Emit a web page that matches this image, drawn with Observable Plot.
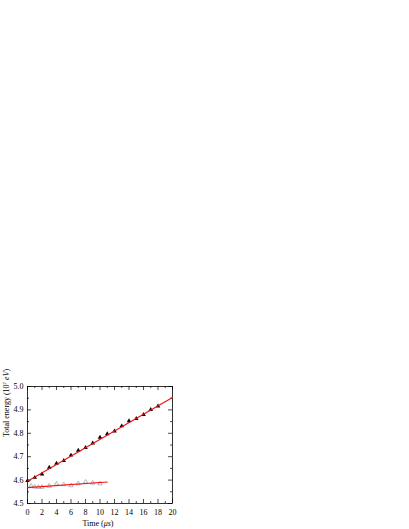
<!DOCTYPE html>
<html>
<head>
<meta charset="utf-8">
<script src="https://cdn.jsdelivr.net/npm/d3@7"></script>
<script src="https://cdn.jsdelivr.net/npm/@observablehq/plot@0.6"></script>
<style>
  html, body { margin: 0; padding: 0; background: white; }
</style>
</head>
<body>
<div id="chart"></div>
<script>
// Series A (black filled triangles)
const timeA = [0, 1, 2, 3, 4, 5, 6, 7, 8, 9, 10, 11, 12, 13, 14, 15, 16, 17, 18];
const energyA = [4.597, 4.611, 4.625, 4.654, 4.671, 4.683, 4.706, 4.727, 4.739, 4.758, 4.782, 4.797, 4.809, 4.831, 4.853, 4.863, 4.880, 4.901, 4.916];
// Series B (grey open markers)
const timeB = [0.5, 1, 1.5, 2, 3, 4, 5, 6, 7, 8, 9, 10];
const energyB = [4.575, 4.571, 4.570, 4.570, 4.575, 4.584, 4.581, 4.577, 4.585, 4.592, 4.588, 4.585];
// Linear fits (endpoints)
const fitATime = [0, 20];
const fitAEnergy = [4.595, 4.953];
const fitBTime = [0, 11];
const fitBEnergy = [4.568, 4.592];
// Ticks
const xMajor = [0, 2, 4, 6, 8, 10, 12, 14, 16, 18, 20];
const xMinor = [1, 3, 5, 7, 9, 11, 13, 15, 17, 19];
const yMajor = [4.5, 4.6, 4.7, 4.8, 4.9, 5.0];
const yMinor = [4.55, 4.65, 4.75, 4.85, 4.95];

const seriesA = timeA.map((t, i) => ({t, e: energyA[i]}));
const seriesB = timeB.map((t, i) => ({t, e: energyB[i]}));
const fitA = fitATime.map((t, i) => ({t, e: fitAEnergy[i]}));
const fitB = fitBTime.map((t, i) => ({t, e: fitBEnergy[i]}));

const W = 409, H = 529;
const mL = 27, mR = 237, mT = 386, mB = 26;
const pw = W - mL - mR, ph = H - mT - mB;
const major = 4, minor = 2;

const plot = Plot.plot({
  width: W, height: H,
  marginLeft: mL, marginRight: mR, marginTop: mT, marginBottom: mB,
  style: {fontFamily: "'Liberation Serif', 'DejaVu Serif', serif", fontSize: "8px", color: "black", background: "white", overflow: "visible"},
  x: {domain: [0, 20]},
  y: {domain: [4.5, 5.0]},
  marks: [
    // ticks inward on all sides
    Plot.tickX(xMajor, {x: d => d, insetTop: ph - major, stroke: "black", strokeWidth: 0.7}),
    Plot.tickX(xMinor, {x: d => d, insetTop: ph - minor, stroke: "black", strokeWidth: 0.7}),
    Plot.tickX(xMajor, {x: d => d, insetBottom: ph - major, stroke: "black", strokeWidth: 0.7}),
    Plot.tickX(xMinor, {x: d => d, insetBottom: ph - minor, stroke: "black", strokeWidth: 0.7}),
    Plot.tickY(yMajor, {y: d => d, insetRight: pw - major, stroke: "black", strokeWidth: 0.7}),
    Plot.tickY(yMinor, {y: d => d, insetRight: pw - minor, stroke: "black", strokeWidth: 0.7}),
    Plot.tickY(yMajor, {y: d => d, insetLeft: pw - major, stroke: "black", strokeWidth: 0.7}),
    Plot.tickY(yMinor, {y: d => d, insetLeft: pw - minor, stroke: "black", strokeWidth: 0.7}),
    Plot.frame({stroke: "black", strokeWidth: 0.8}),
    Plot.axisX(xMajor, {tickSize: 0, tickPadding: 6, label: null, fontSize: 8}),
    Plot.axisY(yMajor, {tickSize: 0, tickPadding: 4, label: null, tickFormat: d => d.toFixed(1), fontSize: 8}),
    // data
    Plot.dot(seriesB, {x: "t", y: "e", symbol: "triangle", r: 1.6, stroke: "#999", strokeWidth: 0.7, fill: "none"}),
    Plot.line(fitB, {x: "t", y: "e", stroke: "#ee1111", strokeWidth: 1.1}),
    Plot.dot(seriesA, {x: "t", y: "e", symbol: "triangle", r: 1.7, fill: "black", stroke: "none"}),
    Plot.line(fitA, {x: "t", y: "e", stroke: "#ee1111", strokeWidth: 1.1}),
    // axis titles
    Plot.text(["Time (μs)"], {frameAnchor: "bottom", dy: 22, dx: -2, fontSize: 8, className: "xtitle"}),
    Plot.text(["Total energy (10⁷ eV)"], {frameAnchor: "left", rotate: -90, dx: -21, dy: -8, fontSize: 8, className: "ytitle"})
  ]
});

document.getElementById("chart").appendChild(plot);

// italicize units
const xt = plot.querySelector(".xtitle text");
if (xt) { xt.innerHTML = 'Time (<tspan font-style="italic">μs</tspan>)'; }
const yt = plot.querySelector(".ytitle text");
if (yt) { yt.innerHTML = 'Total energy (10<tspan font-size="5" dy="-3">7</tspan><tspan dy="3"> </tspan><tspan font-style="italic">eV</tspan>)'; }
</script>
</body>
</html>
